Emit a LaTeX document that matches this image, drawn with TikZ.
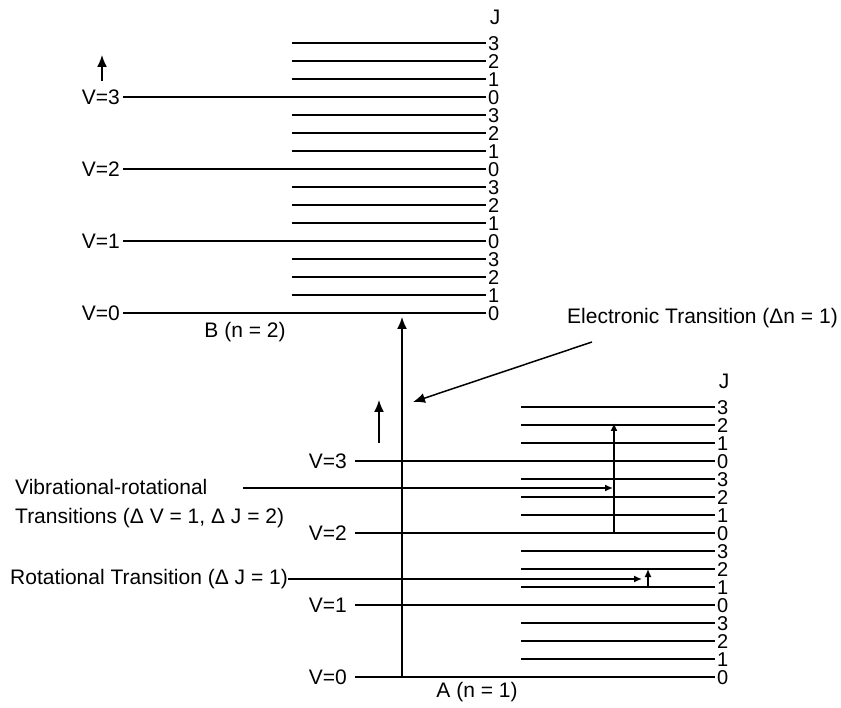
\documentclass[tikz,border=0pt]{standalone}
\usepackage{fontspec}
\setmainfont{Liberation Sans}
\usetikzlibrary{arrows.meta}

% Energy ladder: four vibrational levels V=0..3, each with rotational sublevels J=0..3
% #1 name prefix, #2 x where the V lines start, #3 gap between label and line,
% #4 x where the J lines start, #5 x where all lines end, #6 y of V=0
\newcommand{\energyladder}[6]{%
  \foreach \vn in {0,...,3}{%
    \pgfmathsetmacro{\yv}{#6-72*\vn}%
    \coordinate (#1s\vn) at (#2,\yv);
    \coordinate (#1e\vn) at (#5,\yv);
    \node[vlab] (#1V\vn) at (#2-#3,\yv) {V=\vn};
    \draw[level] (#1s\vn) -- (#1e\vn);
    \node[jlab] (#1j\vn0) at (#5+2,\yv+1) {0};
    \foreach \jn in {1,2,3}{%
      \pgfmathsetmacro{\yj}{\yv-18*\jn}%
      \coordinate (#1s\vn\jn) at (#4,\yj);
      \coordinate (#1e\vn\jn) at (#5,\yj);
      \draw[level] (#1s\vn\jn) -- (#1e\vn\jn);
      \node[jlab] (#1j\vn\jn) at (#5+2,\yj+1) {\jn};
    }
  }
  \node[lab] (#1J) at (#5+9,#6-296) {J};
}

\begin{document}
\begin{tikzpicture}[x=1pt,y=-1pt,
  lab/.style={font=\fontsize{21}{25}\selectfont, inner sep=0pt},
  vlab/.style={lab, anchor=east},
  jlab/.style={font=\fontsize{20}{22}\selectfont, inner sep=0pt, anchor=west},
  level/.style={line width=1.8pt},
  tr/.style={line width=1.5pt, -{Latex[length=12pt,width=10pt]}},
  smalltr/.style={line width=1.5pt, -{Latex[length=8pt,width=7pt]}},
  ]
\useasboundingbox (0,0) rectangle (841,708);

% upper electronic state B
\energyladder{B}{123}{3}{292}{486}{313}
\node[lab] (Bname) at (245,332) {B (n = 2)};
\coordinate (Blow) at (102,81);
\coordinate (Bup) at (102,55);
\draw[tr] (Blow) -- (Bup);

% lower electronic state A
\energyladder{A}{355}{8}{521}{715}{677}
\node[lab] (Aname) at (477,692) {A (n = 1)};
\coordinate (Alow) at (379,443);
\coordinate (Aup) at (379,400);
\draw[tr] (Alow) -- (Aup);

% electronic transition
\coordinate (elow) at (402,677);
\coordinate (eup) at (402,317);
\draw[tr] (elow) -- (eup);
\node[lab, anchor=west] (etxt) at (567,318) {Electronic Transition (Δn = 1)};
\coordinate (etail) at (592,342);
\coordinate (ehead) at (413,402);
\draw[tr] (etail) -- (ehead);

% vibrational-rotational transition
\node[lab, anchor=west] (vr1) at (15,487) {Vibrational-rotational};
\node[lab, anchor=west] (vr2) at (15,518) {Transitions (Δ V = 1, Δ J = 2)};
\coordinate (vrtail) at (243,488);
\coordinate (vrhead) at (613,488);
\draw[smalltr] (vrtail) -- (vrhead);
\coordinate (vrlow) at (614,532);
\coordinate (vrup) at (614,423);
\draw[smalltr] (vrlow) -- (vrup);

% rotational transition
\node[lab, anchor=west] (rot) at (10,579) {Rotational Transition (Δ J = 1)};
\coordinate (rothead) at (642,579);
\draw[smalltr] (rot.east) -- (rothead);
\coordinate (rlow) at (648,587);
\coordinate (rup) at (648,569);
\draw[smalltr] (rlow) -- (rup);
\end{tikzpicture}
\end{document}
